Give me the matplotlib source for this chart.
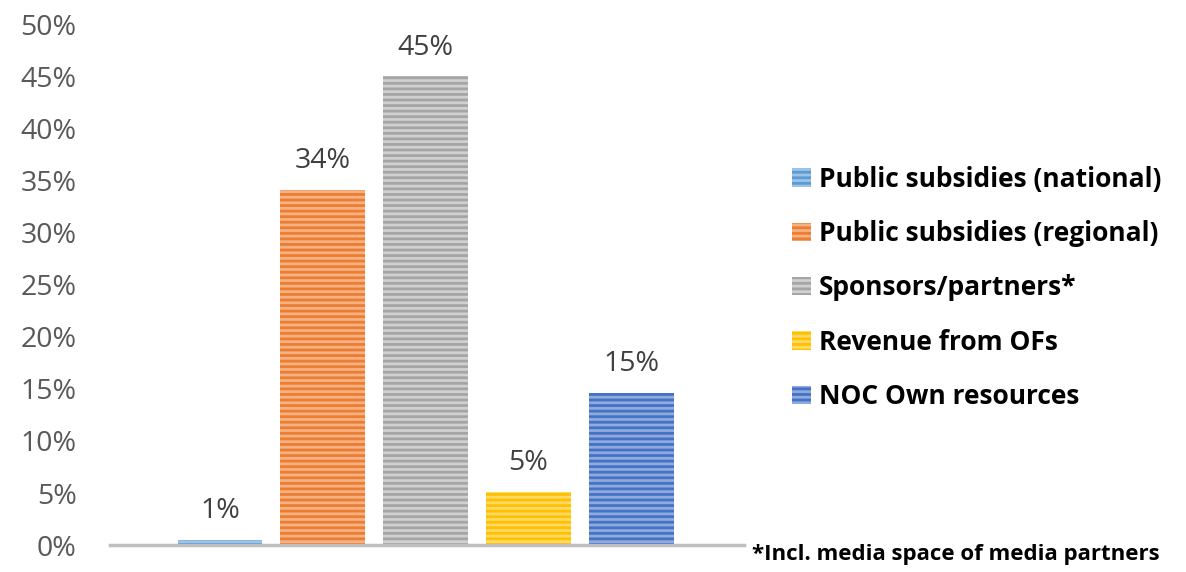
import numpy as np
import matplotlib.pyplot as plt
from matplotlib.patches import Patch

plt.rcParams['font.family'] = ['Open Sans', 'DejaVu Sans']
plt.rcParams['hatch.linewidth'] = 2.0

# data
categories = ['Public subsidies (national)', 'Public subsidies (regional)',
              'Sponsors/partners*', 'Revenue from OFs', 'NOC Own resources']
values = [0.5, 34.1, 45.0, 5.1, 14.6]
labels = ['1%', '34%', '45%', '5%', '15%']
colors = ['#5B9BD5', '#ED7D31', '#A5A5A5', '#FFC000', '#4472C4']
stripe = ['#9DC3E6', '#F4B183', '#D0D0D0', '#FFD966', '#8FAADC']
yticks = [0, 5, 10, 15, 20, 25, 30, 35, 40, 45, 50]

fig = plt.figure(figsize=(11.86, 5.72), dpi=100)
ax = fig.add_axes([0.0927, 0.047, 0.535, 0.911])

x = np.arange(len(values))
bars = ax.bar(x, values, width=0.825, color=colors, edgecolor=stripe,
              linewidth=0, hatch='---')

for xi, v, lab in zip(x, values, labels):
    ax.text(xi, v + 1.4, lab, ha='center', va='bottom', fontsize=20.5, color='#404040')

ax.set_xlim(-1.07, 5.1)
ax.set_ylim(0, 50)
ax.set_yticks(yticks)
ax.set_yticklabels([f'{t}%' for t in yticks], fontsize=20.5, color='#595959')
ax.tick_params(axis='y', length=0, pad=24)
ax.set_xticks([])
for s in ['top', 'right', 'left']:
    ax.spines[s].set_visible(False)
ax.spines['bottom'].set_color('#BFBFBF')
ax.spines['bottom'].set_linewidth(2.5)

handles = [Patch(facecolor=c, edgecolor=s, linewidth=0, hatch='---')
           for c, s in zip(colors, stripe)]
fig.legend(handles, categories, loc='upper left', bbox_to_anchor=(0.648, 0.752),
           frameon=False, prop={'weight': 'bold', 'size': 19},
           handlelength=0.7, handleheight=0.7, handletextpad=0.3,
           labelspacing=1.04)

fig.text(0.634, 0.03, '*Incl. media space of media partners', fontsize=16,
         fontweight='bold', color='black', va='center')

fig.savefig('out.png', dpi=100)
